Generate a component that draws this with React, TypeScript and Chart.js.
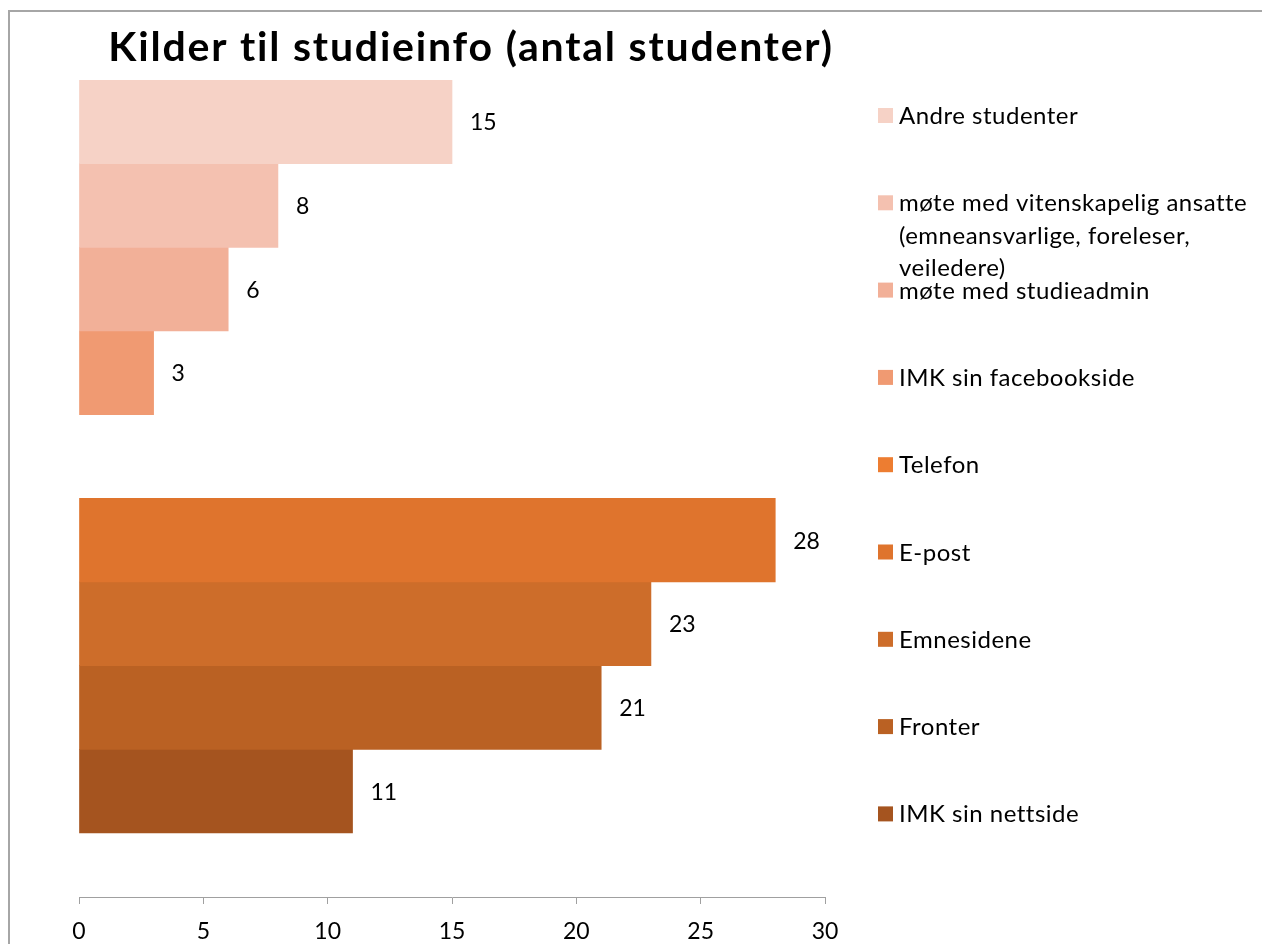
import React, { useEffect, useRef } from "react";
import { Chart, registerables } from "chart.js";

Chart.register(...registerables);

const chartTitle = "Kilder til studieinfo (antal studenter)";

const categories = [
  "Andre studenter",
  "møte med vitenskapelig ansatte (emneansvarlige, foreleser, veiledere)",
  "møte med studieadmin",
  "IMK sin facebookside",
  "Telefon",
  "E-post",
  "Emnesidene",
  "Fronter",
  "IMK sin nettside",
];

const values: (number | null)[] = [15, 8, 6, 3, null, 28, 23, 21, 11];

const colors = [
  "#F6D2C6",
  "#F4C1B0",
  "#F2B098",
  "#F09A72",
  "#ED7D31",
  "#DF742D",
  "#CD6D2A",
  "#BA6123",
  "#A5541F",
];

const xTickStep = 5;
const xMin = 0;
const xMax = 30;

const FONT = "Lato, 'Open Sans', sans-serif";

function wrapText(ctx: CanvasRenderingContext2D, text: string, maxWidth: number): string[] {
  const words = text.split(" ");
  const lines: string[] = [];
  let cur = "";
  for (const w of words) {
    const test = cur ? cur + " " + w : w;
    if (ctx.measureText(test).width > maxWidth && cur) {
      lines.push(cur);
      cur = w;
    } else {
      cur = test;
    }
  }
  if (cur) lines.push(cur);
  return lines;
}

const decorPlugin = {
  id: "decor",
  beforeDraw(chart: any) {
    const ctx = chart.ctx as CanvasRenderingContext2D;
    ctx.save();
    ctx.fillStyle = "#ffffff";
    ctx.fillRect(0, 0, chart.width, chart.height);
    ctx.fillStyle = "#a6a6a6";
    ctx.fillRect(8, 10, chart.width - 8, 2);
    ctx.fillRect(8, 10, 2, chart.height - 10);
    ctx.restore();
  },
  afterDatasetsDraw(chart: any) {
    const ctx = chart.ctx as CanvasRenderingContext2D;
    ctx.save();
    ctx.font = `23px ${FONT}`;
    ctx.fillStyle = "#000000";
    ctx.textAlign = "left";
    ctx.textBaseline = "middle";
    chart.data.datasets.forEach((ds: any, i: number) => {
      const meta = chart.getDatasetMeta(i);
      const el = meta.data[0];
      const v = values[i];
      if (!el || v === null || v === undefined) return;
      ctx.fillText(String(v), el.x + 18, el.y + 1);
    });
    ctx.restore();
  },
  afterDraw(chart: any) {
    const ctx = chart.ctx as CanvasRenderingContext2D;
    ctx.save();
    // title
    ctx.font = `bold 41px ${FONT}`;
    (ctx as any).letterSpacing = "1.8px";
    ctx.fillStyle = "#000000";
    ctx.textAlign = "center";
    ctx.textBaseline = "alphabetic";
    ctx.fillText(chartTitle, 471, 61);
    // legend
    ctx.font = `24px ${FONT}`;
    (ctx as any).letterSpacing = "0.5px";
    ctx.textAlign = "left";
    const rowStep = 87.3;
    const lineStep = 32.5;
    categories.forEach((label, i) => {
      const baseline = 124 + rowStep * i;
      ctx.fillStyle = colors[i];
      ctx.fillRect(878, baseline - 16, 15, 15);
      ctx.fillStyle = "#000000";
      const lines = wrapText(ctx, label, 358);
      lines.forEach((ln, k) => {
        ctx.fillText(ln, 899, baseline + k * lineStep);
      });
    });
    ctx.restore();
  },
};

export default function App() {
  const canvasRef = useRef<HTMLCanvasElement | null>(null);

  useEffect(() => {
    if (!canvasRef.current) return;
    const datasets = categories.map((label, i) => ({
      label,
      data: [{ x: values[i], y: i }],
      backgroundColor: colors[i],
      borderWidth: 0,
      grouped: false,
      categoryPercentage: 1,
      barPercentage: 1,
    }));
    const chart = new Chart(canvasRef.current, {
      type: "bar",
      data: { datasets: datasets as any },
      options: {
        indexAxis: "y",
        animation: false,
        responsive: false,
        maintainAspectRatio: false,
        layout: { padding: { left: 79, right: 437, top: 80, bottom: 0 } },
        plugins: {
          legend: { display: false },
          title: { display: false },
          tooltip: { enabled: false },
        },
        scales: {
          x: {
            type: "linear",
            position: "bottom",
            min: xMin,
            max: xMax,
            offset: false,
            ticks: {
              stepSize: xTickStep,
              color: "#000000",
              font: { family: FONT, size: 23 },
              padding: 14,
              maxRotation: 0,
            },
            grid: {
              drawOnChartArea: false,
              drawTicks: true,
              tickLength: 7,
              color: "#a0a0a0",
            },
            border: { display: true, color: "#a0a0a0", width: 1 },
            afterFit: (scale: any) => {
              scale.height = 47;
            },
          },
          y: {
            type: "linear",
            min: -0.5,
            max: 9.265,
            reverse: true,
            offset: false,
            display: false,
            ticks: { stepSize: 1, includeBounds: false },
            grid: { display: false, offset: false },
          },
        },
      } as any,
      plugins: [decorPlugin],
    });
    let alive = true;
    if ((document as any).fonts && (document as any).fonts.ready) {
      (document as any).fonts.ready.then(() => {
        if (alive) chart.update();
      });
    }
    return () => {
      alive = false;
      chart.destroy();
    };
  }, []);

  return (
    <div style={{ position: "fixed", left: 0, top: 0, width: 1262, height: 944, background: "#fff" }}>
      <canvas ref={canvasRef} width={1262} height={944} style={{ display: "block", width: 1262, height: 944 }} />
    </div>
  );
}
